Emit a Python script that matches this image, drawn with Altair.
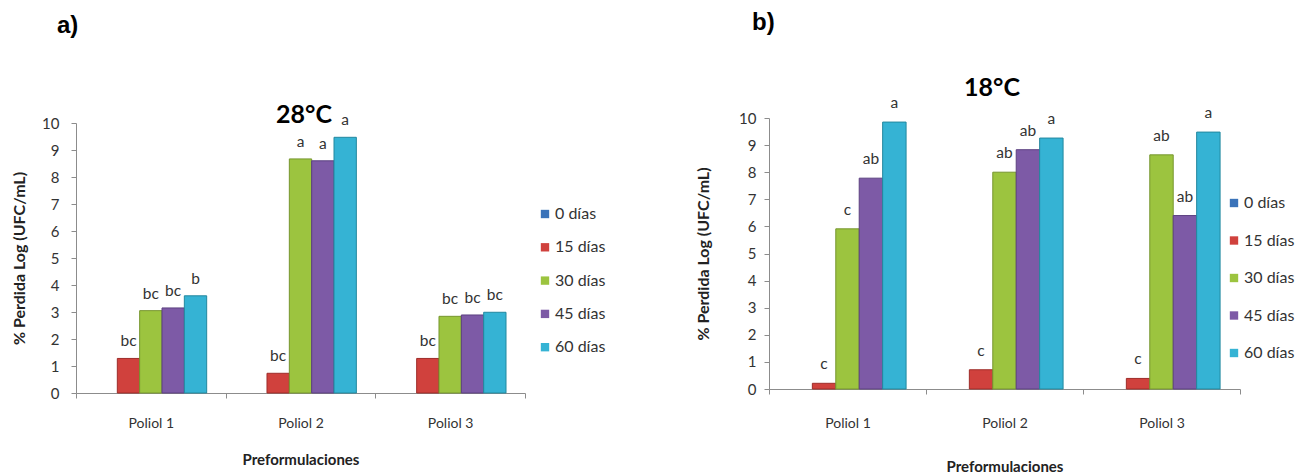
import altair as alt
import pandas as pd

polioles = ["Poliol 1", "Poliol 2", "Poliol 3"]
dias = ["0 días", "15 días", "30 días", "45 días", "60 días"]
colores = ["#3A73B9", "#D0413D", "#9CC43F", "#7D5AA6", "#35B3D4"]
bordes = ["#2A5A94", "#9E2C29", "#76962E", "#5C4080", "#23889F"]

# a) 28 °C
a_0 = [0.0, 0.0, 0.0]
a_15 = [1.28, 0.73, 1.28]
a_30 = [3.05, 8.67, 2.84]
a_45 = [3.15, 8.60, 2.89]
a_60 = [3.60, 9.47, 2.99]
a_let_0 = ["", "", ""]
a_let_15 = ["bc", "bc", "bc"]
a_let_30 = ["bc", "a", "bc"]
a_let_45 = ["bc", "a", "bc"]
a_let_60 = ["b", "a", "bc"]

# b) 18 °C
b_0 = [0.0, 0.0, 0.0]
b_15 = [0.21, 0.71, 0.39]
b_30 = [5.91, 8.00, 8.64]
b_45 = [7.78, 8.83, 6.40]
b_60 = [9.85, 9.26, 9.48]
b_let_0 = ["", "", ""]
b_let_15 = ["c", "c", "c"]
b_let_30 = ["c", "ab", "ab"]
b_let_45 = ["ab", "ab", "ab"]
b_let_60 = ["a", "a", "a"]

FONT = "Lato"


def to_df(series, letters):
    rows = []
    for d, vals, lets in zip(dias, series, letters):
        for p, v, l in zip(polioles, vals, lets):
            rows.append({"poliol": p, "dias": d, "valor": v, "letra": l})
    return pd.DataFrame(rows)


df_a = to_df([a_0, a_15, a_30, a_45, a_60], [a_let_0, a_let_15, a_let_30, a_let_45, a_let_60])
df_b = to_df([b_0, b_15, b_30, b_45, b_60], [b_let_0, b_let_15, b_let_30, b_let_45, b_let_60])

H = 275


def panel(df, tag, titulo, W, yrange, xoff, lab_pad, x_title_pad, y_lab_pad, y_title_pad,
          legX, legY, rowPad, titleX, titleY, tagX, tagY, dy):
    base = alt.Chart(df).encode(
        x=alt.X(
            "poliol:N", sort=polioles,
            scale=alt.Scale(paddingInner=0, paddingOuter=0),
            axis=alt.Axis(
                title="Preformulaciones", labelAngle=0, tickBand="extent", tickSize=5,
                labelPadding=lab_pad, titlePadding=x_title_pad, offset=xoff,
                domainColor="#8c8c8c", tickColor="#8c8c8c",
                labelFont=FONT, labelFontSize=14, labelColor="#333333",
                titleFont=FONT, titleFontSize=15, titleFontWeight="bold", titleColor="#222222",
            ),
        ),
        xOffset=alt.XOffset("dias:N", sort=dias, scale=alt.Scale(paddingOuter=0.85, paddingInner=0)),
        y=alt.Y(
            "valor:Q",
            scale=alt.Scale(domain=[0, 10], range=yrange, nice=False, zero=True),
            axis=alt.Axis(
                title="% Perdida Log (UFC/mL)", values=list(range(11)), grid=False,
                tickSize=5, labelPadding=y_lab_pad, titlePadding=y_title_pad,
                domainColor="#8c8c8c", tickColor="#8c8c8c",
                labelFont=FONT, labelFontSize=15, labelColor="#333333",
                titleFont=FONT, titleFontSize=16, titleFontWeight="bold", titleColor="#222222",
            ),
        ),
    )
    bars = base.mark_bar(strokeWidth=1).encode(
        color=alt.Color(
            "dias:N", sort=dias,
            scale=alt.Scale(domain=dias, range=colores),
            legend=alt.Legend(
                title=None, orient="none", legendX=legX, legendY=legY,
                symbolType="square", symbolSize=70, symbolStrokeWidth=0,
                labelFont=FONT, labelFontSize=16, labelColor="#333333",
                rowPadding=rowPad, labelOffset=2,
            ),
        ),
        stroke=alt.Stroke("dias:N", sort=dias, scale=alt.Scale(domain=dias, range=bordes), legend=None),
        strokeOpacity=alt.condition("datum.valor > 0", alt.value(1), alt.value(0)),
    )
    letras = base.mark_text(
        baseline="alphabetic", dy=dy, font=FONT, fontSize=15.5, color="#333333"
    ).encode(text="letra:N")
    lbl = pd.DataFrame({"t": [tag], "c": [titulo]})
    tag_txt = alt.Chart(lbl).mark_text(
        align="left", baseline="alphabetic", font="Liberation Sans", fontSize=24,
        fontWeight="bold", color="#000000"
    ).encode(text="t:N", x=alt.value(tagX), y=alt.value(tagY))
    title_txt = alt.Chart(lbl).mark_text(
        align="center", baseline="alphabetic", font=FONT, fontSize=25,
        fontWeight="bold", color="#000000"
    ).encode(text="c:N", x=alt.value(titleX), y=alt.value(titleY))
    return alt.layer(bars, letras, tag_txt, title_txt).properties(width=W, height=H)


left = panel(df_a, "a)", "28°C", 449, [275, 5], 0, 18, 22, 12, 14,
             461, 88, 17.3, 228, 5, -19, -85.5, -12)
right = panel(df_b, "b)", "18°C", 471, [271, 0], -4, 22, 29, 8, 27,
              457, 77, 21.5, 223, -22, -17, -88, -14)

chart = alt.hconcat(left, right, spacing=244, bounds="flush").resolve_scale(
    color="independent", stroke="independent", x="independent", y="independent",
    xOffset="independent"
).resolve_legend(color="independent", stroke="independent").configure_view(
    stroke=None
).properties(padding={"left": 3, "top": 3, "right": 5, "bottom": 0}, background="white")

chart.save("out.html", embed_options={"renderer": "svg", "actions": False})
